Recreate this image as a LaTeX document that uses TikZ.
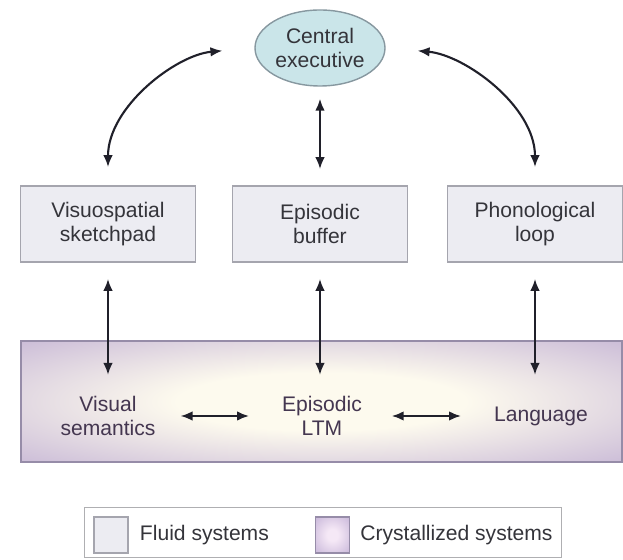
\documentclass[tikz,border=0pt]{standalone}
\usepackage{fontspec}
\setmainfont{Liberation Sans}
\usepackage{tikz}
\usetikzlibrary{calc}
\usetikzlibrary{positioning}
\usetikzlibrary{shapes.geometric}
\usetikzlibrary{arrows.meta}

\definecolor{execfill}{RGB}{202,229,233}
\definecolor{execdraw}{RGB}{135,152,160}
\definecolor{fluidfill}{RGB}{236,236,242}
\definecolor{fluiddraw}{RGB}{165,165,174}
\definecolor{ltmin}{RGB}{253,250,238}
\definecolor{ltmout}{RGB}{186,167,208}
\definecolor{ltmdraw}{RGB}{150,140,168}
\definecolor{ltmtext}{RGB}{68,54,80}
\definecolor{boxtext}{RGB}{52,52,58}
\definecolor{arrowcol}{RGB}{32,32,42}
\definecolor{legenddraw}{RGB}{175,175,178}
\definecolor{swin}{RGB}{245,232,246}

\pgfdeclareradialshading{ltmshade}{\pgfpoint{0bp}{0bp}}{color(0bp)=(ltmin); color(12bp)=(ltmin); color(44bp)=(ltmout); color(80bp)=(ltmout)}
\pgfdeclareradialshading{swshade}{\pgfpoint{0bp}{0bp}}{color(0bp)=(swin); color(8bp)=(swin); color(45bp)=(ltmout); color(80bp)=(ltmout)}

\tikzset{
  txt/.style={font=\fontsize{15}{17.5}\selectfont},
  fluid/.style={txt, rectangle, draw=fluiddraw, line width=1.2pt, fill=fluidfill, minimum width=4.375cm, minimum height=1.9cm, align=center, text=boxtext},
  ltmlabel/.style={txt, align=center, text=ltmtext, inner sep=0pt, minimum height=1.4cm},
  swatch/.style={rectangle, line width=1pt, minimum width=0.85cm, minimum height=0.9cm},
  link/.style={line width=1.5pt, draw=arrowcol, <->}
}

\begin{document}
\begin{tikzpicture}
\useasboundingbox (0,0) rectangle (15.575,14);

\node at (8,12.8)[txt, ellipse, draw=execdraw, line width=1pt, fill=execfill, minimum width=3.25cm, minimum height=1.9cm, inner sep=0pt, align=center, text=boxtext] (cexec) {Central\\executive};

\node at (2.7,8.4)[fluid] (vsketch) {Visuospatial\\sketchpad};
\node at (8,8.4)[fluid] (ebuffer) {Episodic\\buffer};
\node at (13.375,8.4)[fluid] (ploop) {Phonological\\loop};

\node at (0.5,2.425)[rectangle, draw=ltmdraw, line width=1.2pt, shading=ltmshade, minimum width=15.025cm, minimum height=3.025cm, anchor=south west] (crystal) {};
\node at (2.7,3.6)[ltmlabel] (vsem) {Visual\\semantics};
\node at (8.05,3.6)[ltmlabel] (eltm) {Episodic\\LTM};
\node at (13.525,3.6)[ltmlabel] (lang) {Language};

\begin{scope}[>={Latex[length=3mm, width=2.4mm]}]
	\draw [link, shorten <=0.45cm, shorten >=0.8cm] (vsketch.north) to [out=90, in=185] (cexec.west);
	\draw [link, shorten <=0.8cm, shorten >=0.45cm] (cexec.east) to [out=-5, in=90] (ploop.north);
	\draw [link, shorten <=0.3cm, shorten >=0.4cm] (cexec.south) -- (ebuffer.north);

	\draw [link, shorten <=0.4cm, shorten >=0.32cm] (vsketch.south) -- (vsketch.south |- vsem.north);
	\draw [link, shorten <=0.4cm, shorten >=0.32cm] (ebuffer.south) -- (ebuffer.south |- eltm.north);
	\draw [link, shorten <=0.4cm, shorten >=0.32cm] (ploop.south) -- (ploop.south |- lang.north);

	\draw [link, shorten <=0.62cm, shorten >=0.82cm] (vsem.east) -- (eltm.west);
	\draw [link, shorten <=0.74cm, shorten >=0.82cm] (eltm.east) -- (lang.west);
\end{scope}

% legend
\node at (2.1,0.05)[rectangle, draw=legenddraw, line width=0.8pt, minimum width=11.925cm, minimum height=1.25cm, anchor=south west] (legend) {};
\node at (2.775,0.625)[swatch, draw=fluiddraw, fill=fluidfill] (swfluid) {};
\node[txt, text=boxtext, inner sep=0pt, right=0.275cm of swfluid] (lfluid) {Fluid systems};
\node at (8.31,0.625)[swatch, draw=ltmdraw, shading=swshade] (swcryst) {};
\node[txt, text=boxtext, inner sep=0pt, right=0.25cm of swcryst] (lcryst) {Crystallized systems};

\end{tikzpicture}
\end{document}
